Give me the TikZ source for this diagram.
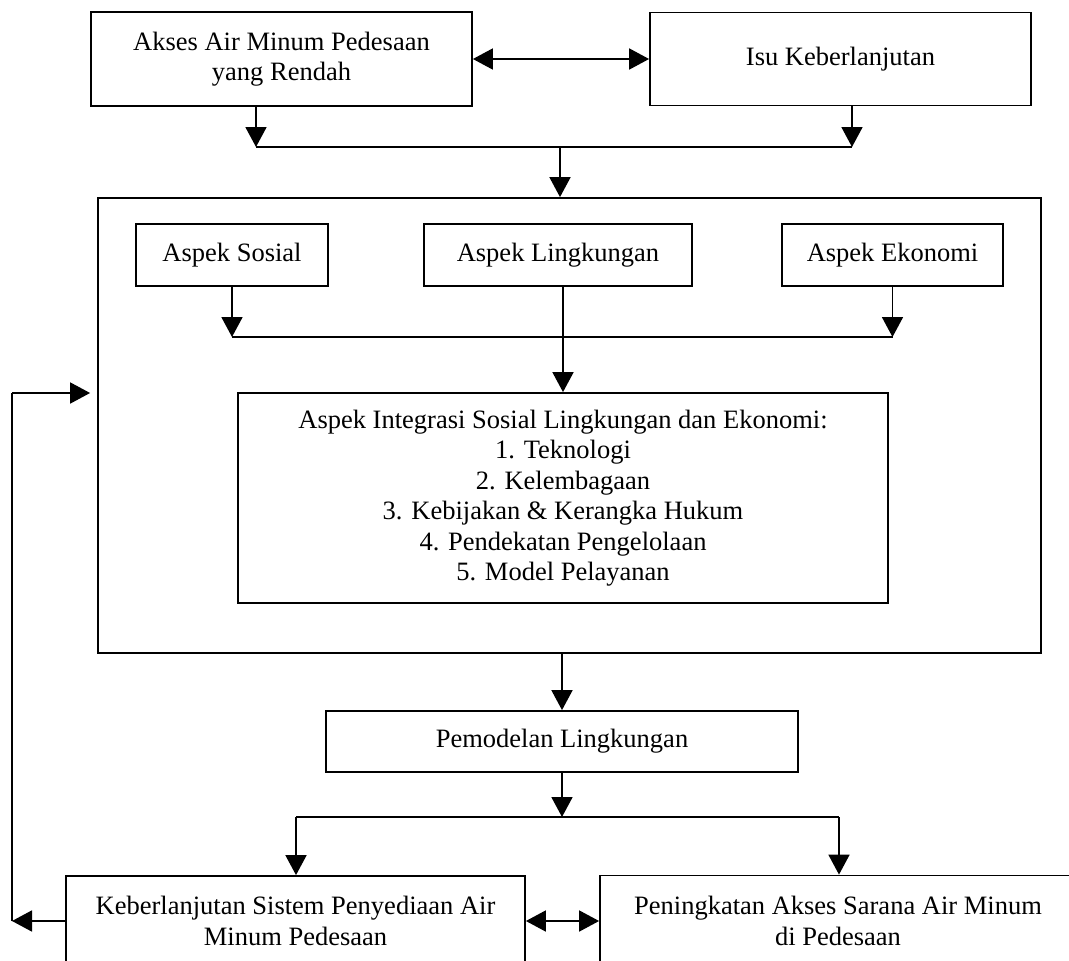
\documentclass[tikz,border=0pt]{standalone}
\usepackage{fontspec}
\setmainfont{Liberation Serif}
\usetikzlibrary{arrows.meta}

\tikzset{
  box/.style={draw, line width=1.8pt, inner sep=0pt, align=center,
              font=\fontsize{26.5}{30.5}\selectfont},
  conn/.style={line width=1.8pt},
  arr/.style={conn, -{Triangle[length=20pt,width=21pt]}},
  dbl/.style={conn, {Triangle[length=20pt,width=21pt]}-{Triangle[length=20pt,width=21pt]}}
}

\begin{document}
\begin{tikzpicture}[x=1pt,y=-1pt]
  \clip (0,0) rectangle (1069,961);
  \fill[white] (0,0) rectangle (1069,961);

  % problem statements
  \node[box, minimum width=381pt, minimum height=94pt] (akses) at (281.5,59)
       {Akses Air Minum Pedesaan\\yang Rendah};
  \node[box, minimum width=381pt, minimum height=93pt] (isu) at (840.5,59)
       {Isu Keberlanjutan};

  % frame holding the three aspects
  \node[box, minimum width=943pt, minimum height=455pt] (big) at (569.5,425.5) {};
  \node[box, minimum width=192pt, minimum height=62pt] (sosial) at (232,255) {Aspek Sosial};
  \node[box, minimum width=268pt, minimum height=62pt] (lingk) at (558,255) {Aspek Lingkungan};
  \node[box, minimum width=221pt, minimum height=62pt] (ekonomi) at (892.5,255) {Aspek Ekonomi};
  \node[box, minimum width=650pt, minimum height=210pt] (integ) at (563,498)
       {Aspek Integrasi Sosial Lingkungan dan Ekonomi:\\
        1. Teknologi\\
        2. Kelembagaan\\
        3. Kebijakan \& Kerangka Hukum\\
        4. Pendekatan Pengelolaan\\
        5. Model Pelayanan};

  \node[box, minimum width=472pt, minimum height=61pt] (pemod) at (562,741.5) {Pemodelan Lingkungan};

  % outcomes
  \node[box, minimum width=459pt, minimum height=90pt] (keb) at (295.5,921)
       {Keberlanjutan Sistem Penyediaan Air\\Minum Pedesaan};
  \node[box, minimum width=476pt, minimum height=91pt] (pen) at (838,921)
       {Peningkatan Akses Sarana Air Minum\\di Pedesaan};

  % junction points
  \coordinate (j1) at (256,147);
  \coordinate (j2) at (852,147);
  \coordinate (jc) at (560,147);
  \coordinate (s1) at (232,337);
  \coordinate (s2) at (892.5,337);
  \coordinate (b1) at (296,817);
  \coordinate (b2) at (839,817);
  \coordinate (f1) at (12,921);
  \coordinate (f2) at (12,393);

  % top connectors
  \draw[dbl] (akses.east) -- (isu.west);
  \draw[arr] (j1 |- akses.south) -- (j1);
  \draw[arr] (j2 |- isu.south) -- (j2);
  \draw[conn] (j1) -- (j2);
  \draw[arr] (jc) -- (jc |- big.north);

  % aspects into integration
  \draw[arr] (sosial.south) -- (s1);
  \draw[arr] (ekonomi.south) -- (s2);
  \draw[conn] (s1) -- (s2);
  \draw[arr] (lingk.south -| integ.north) -- (integ.north);

  % modelling and outcomes
  \draw[arr] (big.south -| pemod.north) -- (pemod.north);
  \draw[arr] (pemod.south) -- (pemod.south |- b1);
  \draw[conn] (b1) -- (b2);
  \draw[arr] (b1) -- (b1 |- keb.north);
  \draw[arr] (b2) -- (b2 |- pen.north);
  \draw[dbl] (keb.east) -- (keb.east -| pen.west);

  % feedback loop
  \draw[arr] (keb.west) -- (f1);
  \draw[conn] (f1) -- (f2);
  \draw[arr, shorten >=7pt] (f2) -- (f2 -| big.west);
\end{tikzpicture}
\end{document}
